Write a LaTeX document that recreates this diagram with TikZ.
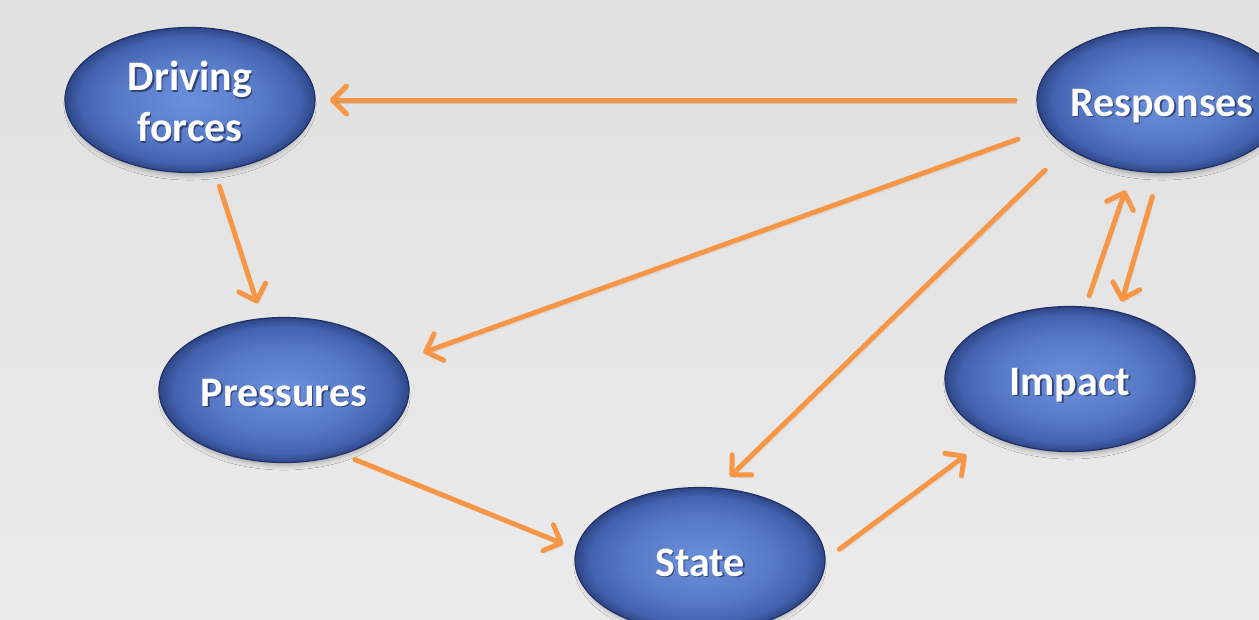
\documentclass[tikz,border=0pt]{standalone}
\usepackage{fontspec}
\setmainfont{Carlito}
\usetikzlibrary{arrows.meta,shapes.geometric,shadows.blur}
\definecolor{bgtop}{RGB}{224,224,224}
\definecolor{bgbot}{RGB}{235,235,235}
\definecolor{arrorange}{RGB}{247,150,70}
\definecolor{blA}{RGB}{108,144,220}
\definecolor{blB}{RGB}{88,123,200}
\definecolor{blC}{RGB}{66,98,174}
\definecolor{blD}{RGB}{46,70,136}
\definecolor{blBorder}{RGB}{32,48,100}
\definecolor{txtshadow}{RGB}{50,68,125}
\pgfdeclareradialshading{ellshade}{\pgfpoint{0bp}{0bp}}{color(0bp)=(blA); color(14bp)=(blB); color(22bp)=(blC); color(25bp)=(blD); color(50bp)=(blD)}
\newcommand\shtxt[1]{\leavevmode\rlap{\kern1.5pt\raisebox{-1.5pt}{\textcolor{txtshadow}{#1}}}#1}
\newcommand\lbl[1]{\makebox[0pt]{\raisebox{-12.5pt}[0pt][0pt]{\begin{tabular}{@{}c@{}}#1\end{tabular}}}}
\tikzset{
  ell/.style={ellipse, minimum width=250pt, minimum height=145pt, inner sep=0pt, outer sep=0pt,
    draw=blBorder, line width=1.2pt, shading=ellshade,
    blur shadow={shadow xshift=0pt, shadow yshift=-5pt, shadow scale=0.97, shadow blur radius=5pt, shadow opacity=30},
    text=white, font=\fontsize{42}{51}\selectfont\bfseries},
  arr/.style={draw=arrorange, line width=5pt, line cap=round,
    -{Straight Barb[length=14pt,width=28pt,line cap=round,line join=round]},
    preaction={draw=black, draw opacity=0.10, transform canvas={shift={(2pt,-3pt)}}}}
}
\begin{document}
\begin{tikzpicture}[x=1pt,y=-1pt]
\useasboundingbox (0,0) rectangle (1259,619);
\clip (0,0) rectangle (1259,619);
\fill[top color=bgtop, bottom color=bgbot] (0,0) rectangle (1259,619);

\node[ell] (drv) at (190,100) {\lbl{\shtxt{Driving}\\\shtxt{forces}}};
\node[ell] (prs) at (284,390) {\lbl{\shtxt{Pressures}}};
\node[ell] (sta) at (700,560) {\lbl{\shtxt{State}}};
\node[ell] (imp) at (1070,379) {\lbl{\shtxt{Impact}}};
\node[ell] (rsp) at (1162,100) {\lbl{\shtxt{Responses}}};

\draw[arr, shorten <=22pt, shorten >=15pt] (rsp.180) -- (drv.0);
\draw[arr, shorten <=31pt, shorten >=26pt] (rsp.194) -- (prs.14);
\draw[arr, shorten <=32pt, shorten >=17pt] (rsp.207) -- (sta.76);
\draw[arr, shorten <=12pt, shorten >=21pt] (imp.78) -- (rsp.247);
\draw[arr, shorten <=25pt, shorten >=11pt] (rsp.268) -- (imp.54);
\draw[arr, shorten <=16pt, shorten >=16pt] (drv.289) -- (prs.107);
\draw[arr, shorten <=14pt, shorten >=14pt] (prs.312) -- (sta.175);
\draw[arr, shorten <=18pt, shorten >=32pt] (sta.0) -- (imp.216);
\end{tikzpicture}
\end{document}
